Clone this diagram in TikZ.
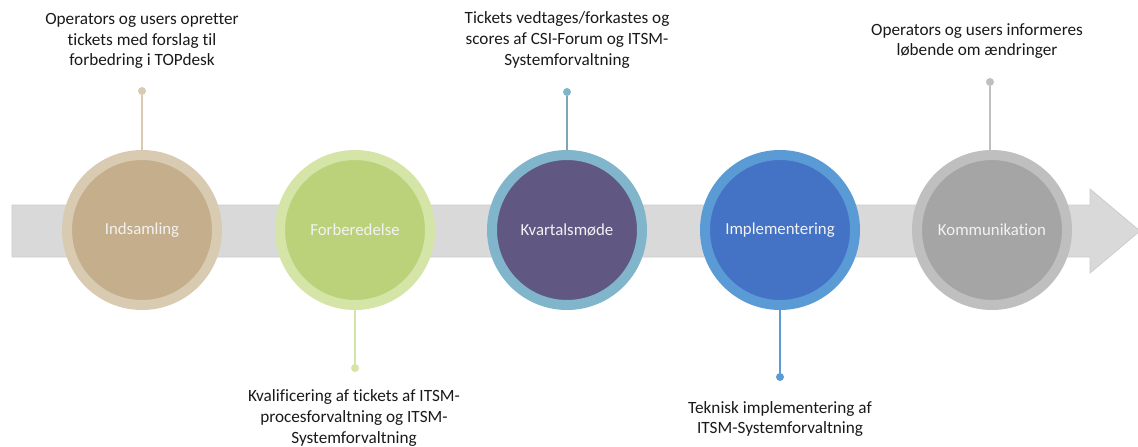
\documentclass[tikz,border=0pt]{standalone}
\usepackage{fontspec}
\setmainfont[Ligatures=NoCommon]{Carlito}

\definecolor{band}{HTML}{D9D9D9}
\definecolor{bandedge}{HTML}{CDCDCD}
\definecolor{tanring}{HTML}{D8CBB1}
\definecolor{tanfill}{HTML}{C4AE8B}
\definecolor{greenring}{HTML}{D5E4A7}
\definecolor{greenfill}{HTML}{BCD27A}
\definecolor{aquaring}{HTML}{80B5CB}
\definecolor{purplefill}{HTML}{615783}
\definecolor{bluering}{HTML}{5B9BD5}
\definecolor{bluefill}{HTML}{4472C4}
\definecolor{grayring}{HTML}{BFBFBF}
\definecolor{grayfill}{HTML}{A5A5A5}
\definecolor{notetext}{HTML}{1A1A1A}

\tikzset{
  phase/.style 2 args={circle,draw=#1,fill=#2,line width=7.5pt,
    minimum size=112.5pt,inner sep=0pt,outer sep=3.75pt,
    text=white!95!black,font=\fontsize{12.6}{15}\selectfont},
  pin/.style={circle,fill=#1,minimum size=6pt,inner sep=0pt},
  stem/.style={draw=#1,line width=1pt},
  note/.style={align=center,text=notetext,font=\fontsize{12.9}{15.4}\selectfont},
}

\begin{document}
\begin{tikzpicture}[x=0.75pt,y=-0.75pt]
  \useasboundingbox (0,0) rectangle (1138,446);

  % timeline band with arrow head
  \draw[fill=band,draw=bandedge,line width=0.6pt]
    (12,205) -- (1090,205) -- (1090,189) -- (1140,231)
    -- (1090,273) -- (1090,257) -- (12,257) -- cycle;

  % phases
  \node[phase={tanring}{tanfill}]      (indsamling) at (142,230) {Indsamling};
  \node[phase={greenring}{greenfill}]  (forb)       at (355,230) {Forberedelse};
  \node[phase={aquaring}{purplefill}]  (kvartal)    at (567,230) {Kvartalsmøde};
  \node[phase={bluering}{bluefill}]    (impl)       at (780,230) {Implementering};
  \node[phase={grayring}{grayfill}]    (komm)       at (992,230) {Kommunikation};

  % pins
  \node[pin=tanring]   (p1) at (142,91) {};
  \node[pin=greenring] (p2) at (355,368) {};
  \node[pin=aquaring]  (p3) at (567,92) {};
  \node[pin=bluering]  (p4) at (780,377) {};
  \node[pin=grayring]  (p5) at (990,82) {};

  \draw[stem=tanring]   (p1) -- (indsamling);
  \draw[stem=greenring] (p2) -- (forb);
  \draw[stem=aquaring!70!gray] (p3) -- (kvartal);
  \draw[stem=bluering]  (p4) -- (impl);
  \draw[stem=grayring]  (p5) -- (p5 |- komm.north);

  % notes
  \node[note] (n1) at (142,41) {Operators og users opretter\\tickets med forslag til\\forbedring i TOPdesk};
  \node[note] (n2) at (354,418) {Kvalificering af tickets af ITSM-\\procesforvaltning og ITSM-\\Systemforvaltning};
  \node[note] (n3) at (567,40) {Tickets vedtages/forkastes og\\scores af CSI-Forum og ITSM-\\Systemforvaltning};
  \node[note] (n4) at (780,419) {Teknisk implementering af\\ITSM-Systemforvaltning};
  \node[note] (n5) at (977,41) {Operators og users informeres\\løbende om ændringer};
\end{tikzpicture}
\end{document}
